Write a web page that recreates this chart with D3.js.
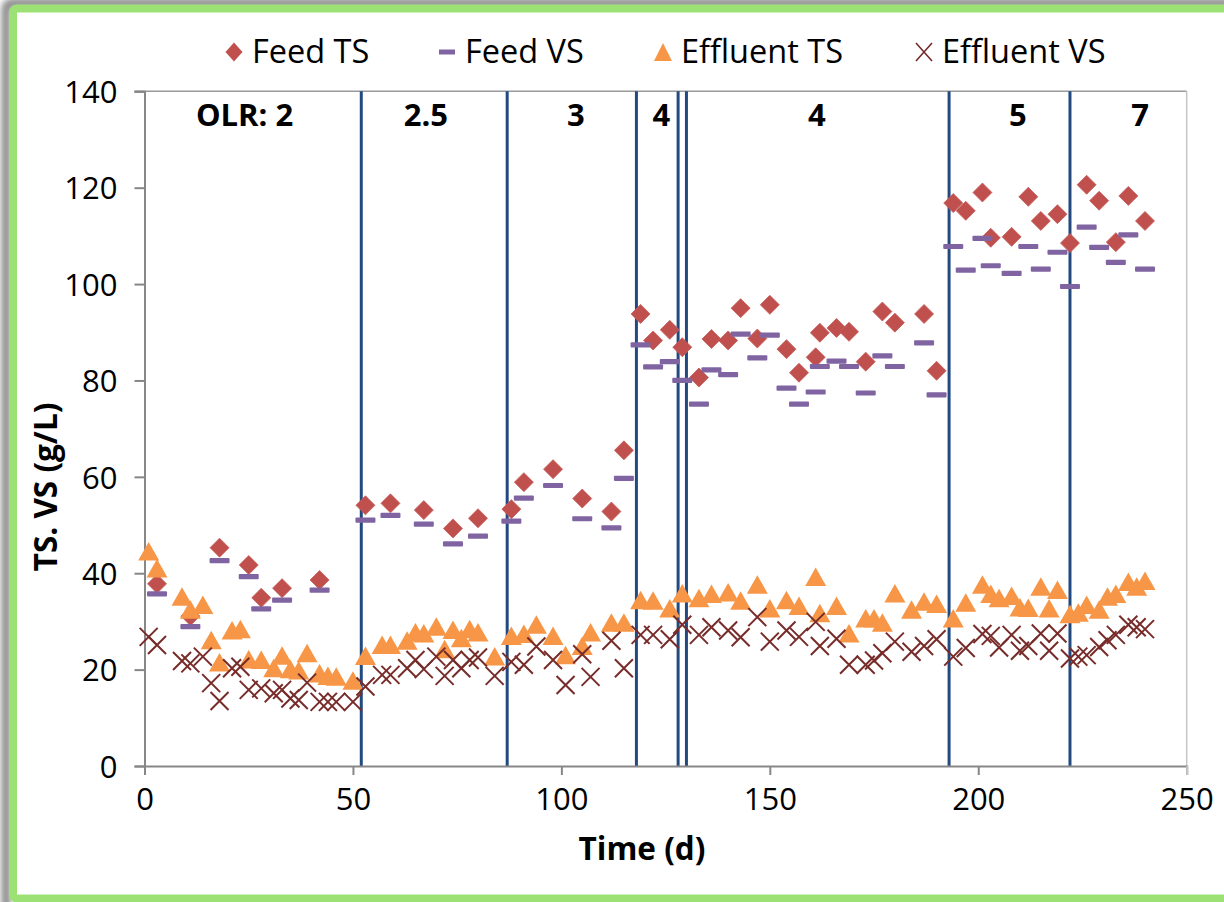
<!DOCTYPE html>
<html><head><meta charset="utf-8">
<script src="https://cdn.jsdelivr.net/npm/d3@7"></script>
<style>
html,body{margin:0;padding:0;background:#fff;}
text{font-family:"Open Sans",Lato,sans-serif;fill:#000;}
</style></head>
<body>
<svg id="chart" width="1224" height="902"></svg>
<script>
// ---- data ----
const feedDays = [3,11,18,25,28,33,42,53,59,67,74,80,88,91,98,105,112,115,119,122,126,129,133,136,140,143,147,150,154,157,161,162,166,169,173,177,180,187,190,194,197,201,203,208,212,215,219,222,226,229,233,236,240];
const feedTS = [37.8,31.1,45.3,41.7,34.9,36.9,38.6,54.1,54.5,53.1,49.3,51.4,53.3,58.9,61.6,55.5,52.8,65.5,93.8,88.3,90.5,86.9,80.6,88.6,88.3,95.0,88.7,95.7,86.5,81.6,84.8,89.9,90.9,90.1,83.9,94.3,92.0,93.8,82.0,116.8,115.2,119.0,109.6,109.8,118.1,113.1,114.5,108.5,120.6,117.3,108.7,118.3,113.1];
const feedVS = [35.7,28.9,42.6,39.3,32.6,34.4,36.5,51.0,52.0,50.2,46.1,47.7,50.8,55.6,58.2,51.3,49.4,59.7,87.4,82.8,83.9,80.0,75.1,82.2,81.2,89.6,84.7,89.4,78.4,75.1,77.6,82.9,84.0,82.9,77.4,85.1,82.9,87.8,77.0,107.8,102.9,109.5,103.8,102.2,107.8,103.1,106.6,99.5,111.8,107.6,104.5,110.2,103.1];
const effDays = [1,3,9,11,14,16,18,21,23,25,28,31,33,35,37,39,42,44,46,50,53,57,59,63,65,67,70,72,74,76,78,80,84,88,91,94,98,101,105,107,112,115,119,122,126,129,133,136,140,143,147,150,154,157,161,162,166,169,173,175,177,180,184,187,190,194,197,201,203,205,208,210,212,215,217,219,222,224,226,229,231,233,236,238,240];
const effTS = [44.5,41.0,35.1,32.4,33.4,26.1,21.5,28.1,28.4,22.1,22.0,20.3,22.9,20.1,19.8,23.4,19.2,18.7,18.5,17.7,22.8,25.1,25.1,26.0,27.7,27.5,28.9,24.2,28.2,26.5,28.4,27.7,22.7,27.0,27.4,29.3,27.0,23.0,24.9,27.7,29.7,29.7,34.4,34.3,32.7,35.8,34.8,35.7,36.0,34.3,37.6,32.7,34.4,33.2,39.2,31.7,33.2,27.5,30.6,30.6,29.7,35.8,32.4,34.1,33.6,30.6,33.9,37.6,35.7,34.8,35.3,32.9,32.8,37.2,32.7,36.5,31.5,31.8,33.4,32.4,35.1,35.7,38.2,37.2,38.4];
const effVS = [26.8,25.1,21.8,21.3,22.7,17.2,13.5,20.3,20.6,15.8,16.1,15.1,15.8,14.0,13.7,17.3,13.3,13.3,13.3,13.3,16.5,18.9,18.9,20.3,22.0,20.1,22.7,18.7,22.0,20.3,22.0,22.5,18.7,21.6,21.0,24.8,22.0,16.8,23.2,18.5,26.0,20.3,27.2,27.2,26.3,29.3,27.2,28.8,28.1,26.7,30.9,25.8,28.1,26.8,29.9,24.9,26.4,21.0,21.0,21.9,23.4,25.8,23.7,24.9,26.3,22.7,24.5,27.4,27.0,24.6,27.2,23.9,24.9,27.5,23.9,27.5,22.3,22.7,23.0,24.7,26.1,27.2,29.3,28.8,28.4];
const phaseLines = [52,87,118,128,130,193,222];
const olrLabels = ["OLR: 2","2.5","3","4","4","5","7"];
const olrLabelDays = [24,67.5,103.5,124,161.3,209.5,238.8];
const xTicks = [0,50,100,150,200,250];
const yTicks = [0,20,40,60,80,100,120,140];
const seriesNames = ["Feed TS","Feed VS","Effluent TS","Effluent VS"];
const xTitle = "Time (d)";
const yTitle = "TS. VS (g/L)";

// ---- setup ----
const svg = d3.select("#chart");
const W = 1224, H = 902;
const x = d3.scaleLinear().domain([0,250]).range([144.5,1186.7]);
const y = d3.scaleLinear().domain([0,140]).range([766,91.3]);

const defs = svg.append("defs");
const f = defs.append("filter").attr("id","sh").attr("x","-5%").attr("y","-5%").attr("width","110%").attr("height","110%");
f.append("feGaussianBlur").attr("stdDeviation",3);

// frame with shadow
svg.append("rect").attr("x",0).attr("y",0).attr("width",W).attr("height",H).attr("fill","#fff");
svg.append("rect").attr("x",6).attr("y",3).attr("width",1230).attr("height",910).attr("rx",6)
  .attr("fill","none").attr("stroke","#8a8a8a").attr("stroke-width",9).attr("filter","url(#sh)");
svg.append("rect").attr("x",13).attr("y",8.5).attr("width",1220).attr("height",890).attr("rx",4)
  .attr("fill","#fff").attr("stroke","#9be173").attr("stroke-width",8);

// plot border (top, right)
svg.append("line").attr("x1",x(0)-10).attr("x2",x(250)).attr("y1",y(140)).attr("y2",y(140)).attr("stroke","#9a9a9a").attr("stroke-width",1.5);
svg.append("line").attr("x1",x(250)).attr("x2",x(250)).attr("y1",y(140)).attr("y2",y(0)).attr("stroke","#c4c4c4").attr("stroke-width",1.5);

// phase lines
svg.append("g").selectAll("line").data(phaseLines).join("line")
  .attr("x1",d=>x(d)).attr("x2",d=>x(d)).attr("y1",y(140)).attr("y2",y(0))
  .attr("stroke","#234a80").attr("stroke-width",3);

// axes
const gx = svg.append("g").attr("transform",`translate(0,${y(0)})`)
  .call(d3.axisBottom(x).tickValues(xTicks).tickSize(9).tickPadding(13).tickFormat(d3.format("d")));
const gy = svg.append("g").attr("transform",`translate(${x(0)},0)`)
  .call(d3.axisLeft(y).tickValues(yTicks).tickSize(10).tickPadding(17).tickFormat(d3.format("d")));
[gx,gy].forEach(g=>{
  g.select(".domain").attr("stroke","#878787").attr("stroke-width",2);
  g.selectAll(".tick line").attr("stroke","#878787").attr("stroke-width",2);
  g.selectAll(".tick text").style("font-family","'Open Sans',sans-serif").style("font-size","31px").attr("fill","#000");
});
gx.select(".tick:last-of-type line").attr("stroke","#c4c4c4");
gy.selectAll(".tick text").attr("dy","0.36em");

// markers
const diamond = "M0,-9.5L9.5,0L0,9.5L-9.5,0Z";
const tri = "M0,-9.5L10.5,9L-10.5,9Z";
const cross = "M-9,-9L9,9M-9,9L9,-9";
function feedPts(vals){return feedDays.map((d,i)=>({d,v:vals[i]}));}
function effPts(vals){return effDays.map((d,i)=>({d,v:vals[i]}));}

svg.append("g").selectAll("path").data(feedPts(feedTS)).join("path")
  .attr("d",diamond).attr("transform",p=>`translate(${x(p.d)},${y(p.v)})`)
  .attr("fill","#c0504d").attr("stroke","#c75c59").attr("stroke-width",0.8);
svg.append("g").selectAll("rect").data(feedPts(feedVS)).join("rect")
  .attr("x",p=>x(p.d)-10).attr("y",p=>y(p.v)-2.6).attr("width",20).attr("height",5.2).attr("rx",1)
  .attr("fill","#8064a2");
svg.append("g").selectAll("path").data(effPts(effTS)).join("path")
  .attr("d",tri).attr("transform",p=>`translate(${x(p.d)},${y(p.v)})`)
  .attr("fill","#f79646");
svg.append("g").selectAll("path").data(effPts(effVS)).join("path")
  .attr("d",cross).attr("transform",p=>`translate(${x(p.d)},${y(p.v)})`)
  .attr("fill","none").attr("stroke","#772c2a").attr("stroke-width",2);

// OLR labels
svg.append("g").selectAll("text").data(olrLabels).join("text")
  .attr("x",(d,i)=>x(olrLabelDays[i])).attr("y",126).attr("text-anchor","middle")
  .style("font-size","31px").style("font-weight","bold").text(d=>d);

// axis titles
svg.append("text").attr("x",642).attr("y",860).attr("text-anchor","middle")
  .style("font-size","31.5px").style("font-weight","bold").text(xTitle);
svg.append("text").attr("transform","translate(57,487) rotate(-90)").attr("text-anchor","middle")
  .style("font-size","31.5px").style("font-weight","bold").text(yTitle);

// legend
const legX = [234,447,663,924];
const lg = svg.append("g");
seriesNames.forEach((n,i)=>{
  const g = lg.append("g").attr("transform",`translate(${legX[i]},52)`);
  if(i===0) g.append("path").attr("d","M0,-9.5L8.5,0L0,9.5L-8.5,0Z").attr("fill","#c0504d");
  if(i===1) g.append("rect").attr("x",-8).attr("y",-2.5).attr("width",16).attr("height",5).attr("fill","#8064a2");
  if(i===2) g.append("path").attr("d","M0,-9L9,9L-9,9Z").attr("fill","#f79646");
  if(i===3) g.append("path").attr("d","M-8,-9L8,9M-8,9L8,-9").attr("stroke","#772c2a").attr("stroke-width",1.6).attr("fill","none");
  g.append("text").attr("x",18).attr("y",11).style("font-size","32.5px").text(n);
});
</script>
</body></html>
